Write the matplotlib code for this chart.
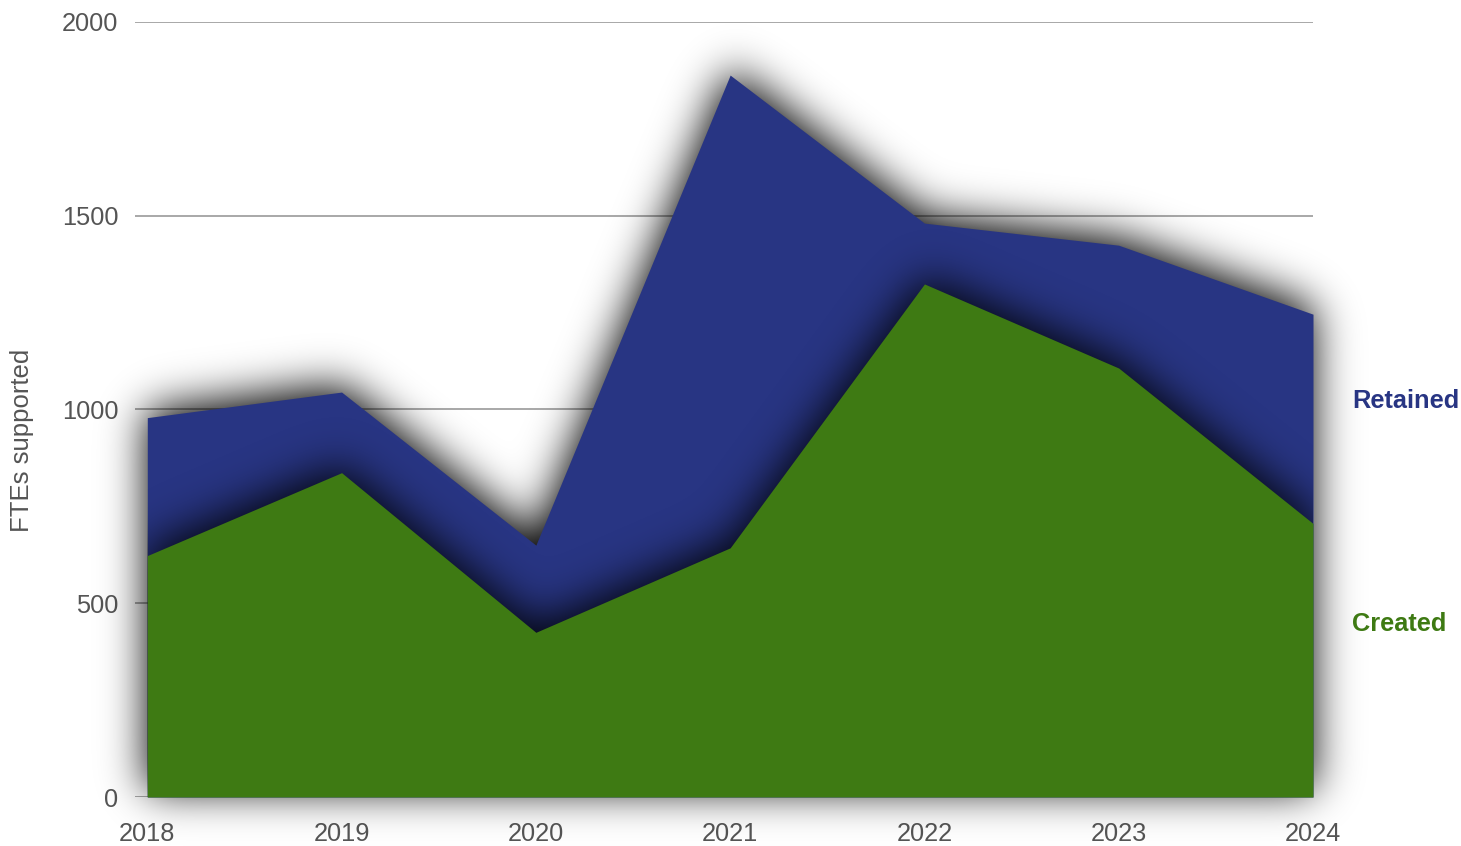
import matplotlib
matplotlib.use("Agg")
import matplotlib.pyplot as plt
import numpy as np
from matplotlib.path import Path
from matplotlib.patches import Polygon

# FTEs supported per year, stacked: created at the bottom, retained on top
years = [2018, 2019, 2020, 2021, 2022, 2023, 2024]
created = [623, 837, 425, 643, 1324, 1107, 706]
retained = [356, 208, 225, 1220, 157, 317, 540]
y_ticks = [0, 500, 1000, 1500, 2000]

blue = "#283583"
green = "#3e7a13"
text_grey = "#555555"

plt.rcParams["font.family"] = ["Liberation Sans", "DejaVu Sans"]

W, H = 1461, 846
fig = plt.figure(figsize=(W / 100, H / 100), dpi=100)
ax = fig.add_axes([135 / W, 49 / H, (1313 - 135) / W, (797 - 22) / H])

x = np.array(years, dtype=float)
low = np.array(created, dtype=float)
top = low + np.array(retained, dtype=float)

xlim = (2018 - 12.3 / 194.3, 2024)
ylim = (0, 2000)
ax.set_xlim(*xlim)
ax.set_ylim(*ylim)


def gaussian_blur(img, sigma):
    pad = int(4 * sigma)
    p = np.pad(img, pad)
    fy = np.fft.fftfreq(p.shape[0])[:, None]
    fx = np.fft.rfftfreq(p.shape[1])[None, :]
    k = np.exp(-2 * (np.pi * sigma) ** 2 * (fx ** 2 + fy ** 2))
    out = np.fft.irfft2(np.fft.rfft2(p) * k, s=p.shape)
    return out[pad:-pad, pad:-pad]


gx, gy = np.meshgrid(np.arange(W) + 0.5, np.arange(H) + 0.5)
grid_pts = np.column_stack([gx.ravel(), gy.ravel()])


def shadow_image(ys, sigma=21, lift=7, strength=1.0):
    # soft drop shadow of a filled band, rendered in pixel space
    verts = [(x[0], 0)] + list(zip(x, ys)) + [(x[-1], 0)]
    disp = ax.transData.transform(verts)
    disp[:, 1] += lift
    mask = Path(disp).contains_points(grid_pts).reshape(H, W).astype(float)
    a = np.clip(gaussian_blur(mask, sigma) * strength, 0, 1)
    rgba = np.zeros((H, W, 4))
    rgba[..., 3] = a
    return rgba


inv = ax.transData.inverted()
(ex0, ey0), (ex1, ey1) = inv.transform([(0, 0), (W, H)])
extent = (ex0, ex1, ey0, ey1)

total_shadow = shadow_image(top)
created_shadow = shadow_image(low, strength=0.9)

ax.set_axisbelow(True)
ax.yaxis.grid(True, color="#9a9a9a", linewidth=1.2, zorder=0)

ax.imshow(total_shadow, extent=extent, origin="lower", aspect="auto",
          zorder=1, clip_on=False)
ax.fill_between(x, 0, top, color=blue, linewidth=0, zorder=2)

outline = Polygon([(x[0], 0)] + list(zip(x, top)) + [(x[-1], 0)],
                  closed=True, facecolor="none", edgecolor="none",
                  transform=ax.transData)
ax.add_patch(outline)
im = ax.imshow(created_shadow, extent=extent, origin="lower", aspect="auto",
               zorder=3)
im.set_clip_path(outline)
ax.fill_between(x, 0, low, color=green, linewidth=0, zorder=4)

ax.set_xlim(*xlim)
ax.set_ylim(*ylim)

for s in ax.spines.values():
    s.set_visible(False)
ax.set_xticks(years)
ax.set_xticklabels([str(y) for y in years])
ax.set_yticks(y_ticks)
ax.tick_params(axis="both", length=0, labelsize=18.3, labelcolor=text_grey)
ax.tick_params(axis="x", pad=18)
ax.tick_params(axis="y", pad=12)

fig.text(22 / W, 1 - 440 / H, "FTEs supported", rotation=90, ha="center",
         va="center", fontsize=18.5, color=text_grey)
fig.text(1352 / W, 1 - 401 / H, "Retained", ha="left", va="center",
         fontsize=18.3, fontweight="bold", color=blue)
fig.text(1352 / W, 1 - 624 / H, "Created", ha="left", va="center",
         fontsize=18.3, fontweight="bold", color=green)

fig.savefig("out.png", dpi=100)
